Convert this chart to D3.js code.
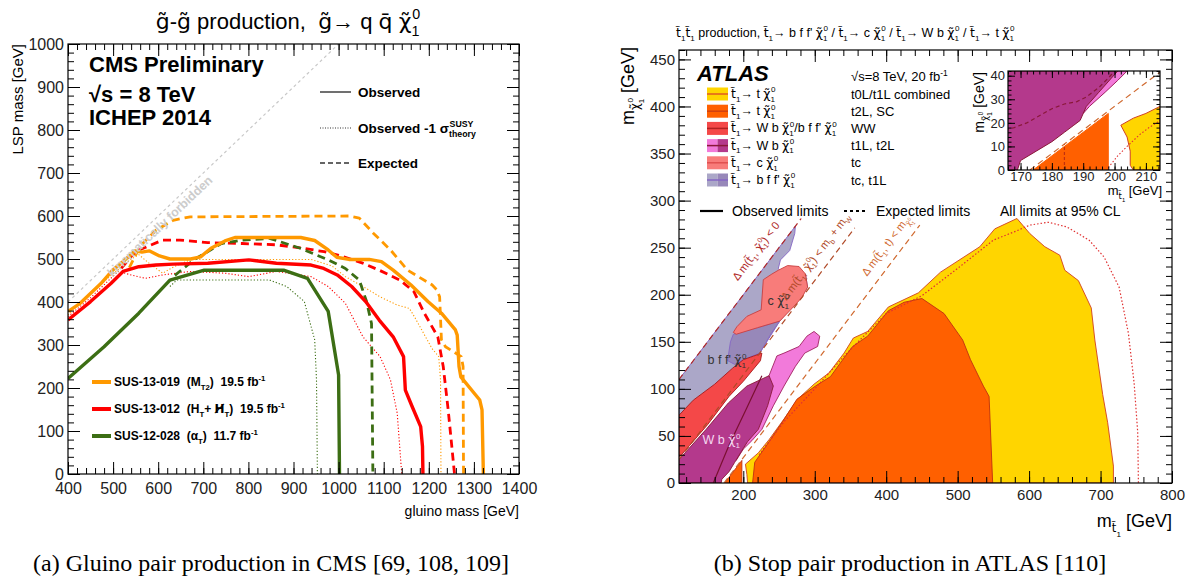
<!DOCTYPE html>
<html>
<head>
<meta charset="utf-8">
<script src="https://cdn.jsdelivr.net/npm/d3@7"></script>
<style>
  body { margin: 0; background: #fff; }
  svg text { font-family: "Liberation Sans", Arial, sans-serif; }
</style>
</head>
<body>
<svg id="fig" width="1202" height="583"></svg>
<script>
// ---------- left panel data (CMS, gluino mass vs LSP mass, GeV) ----------
const cmsXTicks = [400, 500, 600, 700, 800, 900, 1000, 1100, 1200, 1300, 1400];
const cmsYTicks = [0, 100, 200, 300, 400, 500, 600, 700, 800, 900, 1000];

const orangeObs = [[400,378],[427,397],[473,443],[499,474],[522,494],[549,519],[564,516],[580,519],[603,507],[626,500],[672,500],[694,505],[717,525],[748,542],[770,550],[855,550],[916,550],[947,543],[977,521],[996,504],[1023,499],[1068,499],[1095,494],[1121,474],[1160,440],[1198,401],[1228,374],[1259,335],[1263,323],[1267,250],[1271,226],[1313,172],[1318,149],[1321,0]];
const orangeExp = [[536,480],[560,530],[595,567],[633,590],[671,598],[1023,600],[1046,595],[1077,560],[1115,521],[1153,474],[1207,440],[1218,428],[1224,412],[1228,312],[1237,296],[1272,273],[1276,250],[1277,0]];
const orangeDot = [[400,370],[450,420],[500,466],[540,500],[557,510],[580,490],[610,467],[633,481],[672,499],[939,499],[985,484],[1015,459],[1054,436],[1092,412],[1130,393],[1157,385],[1168,366],[1207,292],[1222,273],[1226,219],[1227,0]];

const redObs = [[400,358],[450,401],[495,443],[522,471],[557,482],[595,486],[633,488],[710,490],[801,498],[862,490],[939,486],[967,478],[997,463],[1029,436],[1060,401],[1090,358],[1121,319],[1144,273],[1148,195],[1163,157],[1182,110],[1186,64],[1187,0]];
const redExp = [[518,478],[549,517],[610,544],[648,544],[710,538],[786,536],[862,533],[915,526],[968,517],[1006,507],[1052,491],[1090,474],[1136,451],[1167,424],[1190,374],[1220,319],[1232,250],[1243,149],[1251,64],[1257,0]];
const redDot = [[400,366],[450,410],[511,471],[540,463],[572,455],[610,463],[671,471],[748,467],[801,459],[862,471],[939,459],[977,436],[1015,397],[1054,319],[1092,273],[1115,219],[1130,141],[1140,0]];

const greenObs = [[400,222],[480,296],[557,374],[626,451],[702,474],[878,474],[931,455],[977,378],[1000,230],[1002,0]];
const greenExp = [[637,462],[679,498],[740,536],[786,544],[847,548],[915,525],[977,498],[1015,478],[1046,451],[1062,401],[1073,350],[1076,0]];
const greenDot = [[626,436],[641,451],[710,451],[847,451],[885,436],[924,401],[947,312],[951,219],[953,0]];

const S2 = "\u00a0\u00a0";
const cmsAnalyses = [`SUS-13-019${S2}(M_{T2})${S2}19.5 fb^{-1}`, `SUS-13-012${S2}(H_{T}+ H\u0338_{T})${S2}19.5 fb^{-1}`, `SUS-12-028${S2}(\u03b1_{T})${S2}11.7 fb^{-1}`];

// ---------- right panel data (ATLAS, stop mass vs neutralino mass, GeV) ----------
const atlasXTicks = [200, 300, 400, 500, 600, 700, 800];
const atlasYTicks = [0, 50, 100, 150, 200, 250, 300, 350, 400, 450];

const yellowObs = [[206,0],[205,9],[203,20],[221,32],[236,46],[257,68],[276,89],[299,105],[320,117],[341,138],[354,154],[374,161],[403,187],[445,202],[476,224],[531,251],[552,270],[583,281],[601,265],[622,251],[643,242],[650,226],[669,215],[687,186],[692,152],[703,94],[710,64],[718,18],[718,0]];
const yellowExp = [[222,30],[258,66],[300,100],[345,138],[400,180],[450,199],[500,228],[550,258],[583,268],[601,274],[627,277],[653,272],[684,258],[705,240],[726,208],[739,159],[747,106],[752,54],[753,0]];
const orangeRegion = [[213,0],[216,22],[238,46],[254,64],[275,89],[301,103],[322,113],[343,135],[353,145],[374,156],[403,183],[425,192],[450,196],[481,180],[507,152],[518,131],[536,103],[544,92],[549,0]];
const orangeSliver = [[174,0],[198,24],[198,0]];
const grayRegion = [[110,110],[273,273],[272,265],[265,247],[252,237],[249,228],[257,222],[287,222],[290,208],[251,172],[223,138],[200,131],[160,100],[110,60]];
const darkPurpleRegion = [[186,158],[220,165],[251,172],[240,160],[223,138],[200,131],[188,126],[178,130],[182,150]];
const salmonRegion = [[249,226],[262,231],[278,230],[287,222],[290,208],[282,197],[265,183],[251,172],[220,165],[190,158],[186,160],[191,166],[205,177],[225,184],[228,216],[240,222]];
const redRegion = [[200,131],[215,135],[226,138],[224,130],[200,108],[180,92],[150,62],[125,40],[110,27],[110,72],[130,88],[160,105],[185,122]];
const pinkRegion = [[299,161],[307,156],[304,145],[286,138],[273,124],[257,103],[242,82],[226,57],[212,45],[200,36],[190,24],[236,114],[247,135],[257,138],[278,145],[289,156]];
const magentaRegion = [[236,114],[242,103],[234,82],[221,57],[206,44],[196,32],[188,22],[180,12],[170,4],[169,0],[110,0],[110,25],[148,57],[179,85],[205,103]];
const magentaInner = [[158,0],[180,40],[205,80],[226,114]];
const kinOffsets = [0, 85, 173];       // m(chi) = m(stop) - offset
const kinEnds = [281, 356, 447];

// inset (zoom on the low-mass corner)
const insetXTicks = [170, 180, 190, 200, 210];
const insetYTicks = [0, 10, 20, 30, 40];
const insetMagenta = [[165,0],[169,0],[170,4],[175,8],[180,12],[184,16],[187,19],[189,21],[190,24],[191,27],[195,33],[199,39],[201,42],[165,42]];
const insetPink = [[190,24],[192,27],[197,33],[201,38],[204,42],[201,42],[197,37],[193,31],[190,27]];
const insetOrange = [[174,0],[198,24],[198,0]];
const insetYellow = [[202,19],[204,14],[205,8],[205,2],[206,0],[214.5,0],[214.5,27],[210,24],[206,22]];
const insetMagExp = [[165,17],[168,18],[172,20],[176,23],[180,26],[184,28],[188,29],[191,31],[195,35],[198,39],[200,42]];
const insetRedDot = [[198,1],[201,6],[204,10],[208,15],[211,18],[214.5,21]];

const T = "t\u0303", CHI = "\u03c7\u0303";
const atlasLegend = [
  `${T}_{1}\u2192 t ${CHI}_{1}^{0}`,
  `${T}_{1}\u2192 t ${CHI}_{1}^{0}`,
  `${T}_{1}\u2192 W b ${CHI}_{1}^{0}/b f f' ${CHI}_{1}^{0}`,
  `${T}_{1}\u2192 W b ${CHI}_{1}^{0}`,
  `${T}_{1}\u2192 c ${CHI}_{1}^{0}`,
  `${T}_{1}\u2192 b f f' ${CHI}_{1}^{0}`
];
const atlasAnalyses = ["t0L/t1L combined", "t2L, SC", "WW", "t1L, t2L", "tc", "tc, t1L"];

// ---------- helpers ----------
const svg = d3.select("#fig");

// very small TLatex-like markup: _{sub}, ^{sup}, _{sub}^{sup}
function parse(str) {
  const out = [];
  str.split(/(_\{[^}]*\}\^\{[^}]*\}|_\{[^}]*\}|\^\{[^}]*\})/).filter(s => s).forEach(p => {
    let m;
    if ((m = p.match(/^_\{([^}]*)\}\^\{([^}]*)\}$/))) {
      out.push([m[1], 0.3, 0.65]); out.push([m[2], -0.45, 0.65, true]);
    } else if ((m = p.match(/^_\{([^}]*)\}$/))) out.push([m[1], 0.3, 0.65]);
    else if ((m = p.match(/^\^\{([^}]*)\}$/))) out.push([m[1], -0.4, 0.65]);
    else {
      // keep letters carrying a combining accent in their own tspan (DejaVu places them well)
      p.split(/(.[\u0303\u0304\u0338])/).filter(s => s).forEach(q => out.push([q, 0, 1]));
    }
  });
  return out;
}
function rich(t, fs, src) {
  const segs = typeof src === "string" ? parse(src) : src;
  let cur = 0, last = null;
  segs.forEach(([txt, off, sz, stack]) => {
    const sp = t.append("tspan").attr("font-size", fs * sz).attr("dy", (off - cur) * fs).text(txt);
    if (/[\u0303\u0304\u0338]/.test(txt)) sp.style("font-family", "'DejaVu Sans', sans-serif");
    if (stack && last) sp.attr("dx", -last.getComputedTextLength() + 0.04 * fs);
    cur = off; last = sp.node();
  });
  return t;
}

function frame(g, x, y, o) {
  const [x0, x1] = x.range(), [y0, y1] = y.range();
  const add = (axis, tr) => g.append("g").attr("transform", tr).call(axis)
      .call(a => a.select(".domain").remove())
      .call(a => a.selectAll("text").attr("font-size", o.fs).attr("fill", "#222"))
      .call(a => a.selectAll("line").attr("stroke", "#000"));
  const f = d3.format("d");
  add(d3.axisBottom(x).tickValues(o.xMajor).tickSize(-o.maj).tickPadding(o.padX).tickFormat(f), `translate(0,${y0})`);
  add(d3.axisBottom(x).tickValues(o.xMinor).tickSize(-o.min).tickFormat(""), `translate(0,${y0})`);
  add(d3.axisLeft(y).tickValues(o.yMajor).tickSize(-o.maj).tickPadding(o.padY).tickFormat(f), `translate(${x0},0)`);
  add(d3.axisLeft(y).tickValues(o.yMinor).tickSize(-o.min).tickFormat(""), `translate(${x0},0)`);
  add(d3.axisTop(x).tickValues(o.xMajor).tickSize(-o.maj).tickFormat(""), `translate(0,${y1})`);
  add(d3.axisTop(x).tickValues(o.xMinor).tickSize(-o.min).tickFormat(""), `translate(0,${y1})`);
  add(d3.axisRight(y).tickValues(o.yMajor).tickSize(-o.maj).tickFormat(""), `translate(${x1},0)`);
  add(d3.axisRight(y).tickValues(o.yMinor).tickSize(-o.min).tickFormat(""), `translate(${x1},0)`);
  g.append("rect").attr("x", x0).attr("y", y1).attr("width", x1 - x0).attr("height", y0 - y1)
    .attr("fill", "none").attr("stroke", "#000").attr("stroke-width", 1.2);
}

// ================= LEFT PANEL =================
const xL = d3.scaleLinear().domain([400, 1400]).range([68, 519]);
const yL = d3.scaleLinear().domain([0, 1000]).range([474, 44]);
const left = svg.append("g");
left.append("clipPath").attr("id", "clipL").append("rect")
  .attr("x", 68).attr("y", 44).attr("width", 451).attr("height", 430);
const plotL = left.append("g").attr("clip-path", "url(#clipL)");
const lineL = d3.line().x(d => xL(d[0])).y(d => yL(d[1]));

// kinematic limit
plotL.append("line").attr("x1", xL(400)).attr("y1", yL(400)).attr("x2", xL(1000)).attr("y2", yL(1000))
  .attr("stroke", "#c8c8c8").attr("stroke-width", 1.2).attr("stroke-dasharray", "3,3");
{
  const ang = Math.atan2(yL(500) - yL(600), xL(600) - xL(500)) * 180 / Math.PI;
  const cx = xL(590) + 9, cy = yL(590) + 9;
  left.append("text").attr("transform", `translate(${cx},${cy}) rotate(${-ang})`)
    .attr("text-anchor", "middle").attr("font-size", 12.5).attr("font-weight", "bold").attr("fill", "#cccccc")
    .text("kinematically forbidden");
}

const curves = [
  [orangeDot, "#ff9900", 1.1, "1.2,2"], [redDot, "#ff0000", 1.1, "1.2,2"], [greenDot, "#3c6e14", 1.1, "1.2,2"],
  [orangeExp, "#ff9900", 2.8, "8,5"], [redExp, "#ff0000", 2.8, "8,5"], [greenExp, "#3c6e14", 2.8, "8,5"],
  [orangeObs, "#ff9900", 3.4, null], [redObs, "#ff0000", 3.4, null], [greenObs, "#3c6e14", 3.4, null]
];
curves.forEach(([d, c, w, dash]) => {
  const p = plotL.append("path").attr("d", lineL(d)).attr("fill", "none")
    .attr("stroke", c).attr("stroke-width", w).attr("stroke-linejoin", "round");
  if (dash) p.attr("stroke-dasharray", dash);
});

frame(left, xL, yL, {
  xMajor: cmsXTicks, xMinor: d3.range(400, 1401, 20), yMajor: cmsYTicks, yMinor: d3.range(0, 1001, 20),
  maj: 12, min: 6, fs: 16, padX: 9, padY: 4
});

rich(left.append("text").attr("x", 288).attr("y", 29).attr("text-anchor", "middle"), 22,
  `g\u0303-g\u0303 production,${S2}g\u0303\u2192 q q\u0304 ${CHI}_{1}^{0}`);
left.append("text").attr("transform", "translate(23,44) rotate(-90)").attr("text-anchor", "end")
  .attr("font-size", 15).text("LSP mass [GeV]");
left.append("text").attr("x", 519).attr("y", 516).attr("text-anchor", "end")
  .attr("font-size", 14).text("gluino mass [GeV]");

["CMS Preliminary", "\u221As = 8 TeV", "ICHEP 2014"].forEach((s, i) =>
  left.append("text").attr("x", 89).attr("y", [72, 102, 125][i]).attr("font-size", 22)
    .attr("font-weight", "bold").text(s));

// legend (line styles)
[["Observed", null, 1.4], [`Observed -1 \u03c3_{theory}^{SUSY}`, "1,1.5", 1], ["Expected", "5,3", 1.4]].forEach(([s, dash, w], i) => {
  const yy = [92, 128, 163][i];
  const ln = left.append("line").attr("x1", 320).attr("x2", 351).attr("y1", yy).attr("y2", yy)
    .attr("stroke", "#333").attr("stroke-width", w);
  if (dash) ln.attr("stroke-dasharray", dash);
  rich(left.append("text").attr("x", 358).attr("y", yy + 5).attr("font-size", 13.5).attr("font-weight", "bold"), 13.5, s);
});
// legend (analyses)
cmsAnalyses.forEach((s, i) => {
  const yy = [382, 409, 436][i];
  left.append("line").attr("x1", 92).attr("x2", 111).attr("y1", yy).attr("y2", yy)
    .attr("stroke", ["#ff9900", "#ff0000", "#3c6e14"][i]).attr("stroke-width", 4);
  rich(left.append("text").attr("x", 114).attr("y", yy + 4).attr("font-weight", "bold"), 12, s);
});

// ================= RIGHT PANEL =================
const xR = d3.scaleLinear().domain([110, 800]).range([679, 1172]);
const yR = d3.scaleLinear().domain([0, 460]).range([483, 50]);
const right = svg.append("g");
right.append("clipPath").attr("id", "clipR").append("rect")
  .attr("x", 679).attr("y", 50).attr("width", 493).attr("height", 433);
const plotR = right.append("g").attr("clip-path", "url(#clipR)");
const lineR = d3.line().x(d => xR(d[0])).y(d => yR(d[1]));
const polyR = d => lineR(d) + "Z";

const regions = [
  [grayRegion, "#aba7c8", "#8466c4"], [darkPurpleRegion, "#9788b9", "#8466c4"],
  [salmonRegion, "#f87c7a", "#c84040"], [redRegion, "#f44848", "#a81818"],
  [pinkRegion, "#f27ada", "#a02060"], [magentaRegion, "#b4398c", "#8a1838"],
  [yellowObs, "#ffd500", "#d04020"], [orangeRegion, "#ff6000", "#c03010"], [orangeSliver, "#ff6000", "#c03010"]
];
regions.forEach(([d, f, s]) => plotR.append("path").attr("d", polyR(d))
  .attr("fill", f).attr("stroke", s).attr("stroke-width", 0.9).attr("stroke-linejoin", "round"));
plotR.append("path").attr("d", lineR(magentaInner)).attr("fill", "none")
  .attr("stroke", "#7a1030").attr("stroke-width", 1.2);
plotR.append("path").attr("d", lineR(yellowExp)).attr("fill", "none")
  .attr("stroke", "#e03030").attr("stroke-width", 1.2).attr("stroke-dasharray", "1.5,2");

// kinematic boundaries
const kinColors = ["#b02828", "#b04a28", "#d06a30"];
kinOffsets.forEach((off, i) => {
  const a = Math.max(110, off);
  plotR.append("line").attr("x1", xR(a)).attr("y1", yR(a - off)).attr("x2", xR(kinEnds[i])).attr("y2", yR(kinEnds[i] - off))
    .attr("stroke", kinColors[i]).attr("stroke-width", 1.2).attr("stroke-dasharray", "6,4");
});
{
  const ang = Math.atan2(yR(0) - yR(100), xR(210) - xR(110)) * 180 / Math.PI;
  const labs = [
    [`\u0394 m(${T}_{1}, ${CHI}_{1}^{0}) < 0`, 222, 244],
    [`\u0394 m(${T}_{1}, ${CHI}_{1}^{0}) < m_{b} + m_{W}`, 305, 238],
    [[["\u0394 m(", 0, 1], [T, 0, 1], ["1", 0.3, 0.65], [", t) < m", 0, 1], [CHI, 0.3, 0.65], ["1", 0.55, 0.45], ["0", 0.05, 0.45, true]], 404, 250]
  ];
  labs.forEach(([s, vx, vy], i) => {
    const t = right.append("text").attr("transform", `translate(${xR(vx)},${yR(vy)}) rotate(${-ang})`)
      .attr("text-anchor", "middle").attr("fill", kinColors[i]);
    rich(t, 11, s);
  });
}

// labels inside regions
rich(right.append("text").attr("x", xR(234)).attr("y", yR(189)).attr("fill", "#333"), 12.5, `c ${CHI}_{1}^{0}`);
rich(right.append("text").attr("x", xR(150)).attr("y", yR(126)).attr("fill", "#333"), 12.5, `b f f' ${CHI}_{1}^{0}`);
rich(right.append("text").attr("x", xR(143)).attr("y", yR(41)).attr("fill", "#f4d8f0"), 12.5, `W b ${CHI}_{1}^{0}`);

frame(right, xR, yR, {
  xMajor: atlasXTicks, xMinor: d3.range(120, 801, 20), yMajor: atlasYTicks, yMinor: d3.range(0, 461, 10),
  maj: 12, min: 6, fs: 15, padX: 6, padY: 4
});

// title and axis titles
rich(right.append("text").attr("x", 676).attr("y", 37), 12.5,
  `${T}_{1}${T}_{1} production, ${T}_{1}\u2192 b f f' ${CHI}_{1}^{0} / ${T}_{1}\u2192 c ${CHI}_{1}^{0} / ${T}_{1}\u2192 W b ${CHI}_{1}^{0} / ${T}_{1}\u2192 t ${CHI}_{1}^{0}`);
rich(right.append("text").attr("transform", "translate(634,47) rotate(-90)").attr("text-anchor", "end"), 18,
  [["m", 0, 1], [CHI, 0.3, 0.65], ["1", 0.55, 0.45], ["0", -0.05, 0.45, true], [" [GeV]", 0, 1]]);
rich(right.append("text").attr("x", 1172).attr("y", 527).attr("text-anchor", "end"), 18,
  [["m", 0, 1], [T, 0.3, 0.65], ["1", 0.55, 0.45], [" [GeV]", 0, 1]]);

// ATLAS label and legend
right.append("text").attr("x", 697).attr("y", 81).attr("font-size", 22).attr("font-weight", "bold")
  .attr("font-style", "italic").text("ATLAS");
rich(right.append("text").attr("x", 851).attr("y", 81), 13, "\u221As=8 TeV, 20 fb^{-1}");
const swFill = [["#ffd500"], ["#ff6000"], ["#f44848"], ["#f27ada", "#b4398c"], ["#f87c7a"], ["#aba7c8", "#9788b9"]];
const swLine = ["#e05a20", "#d04010", "#b02020", "#8a1838", "#e05050", "#8466c4"];
atlasLegend.forEach((s, i) => {
  const yy = 94 + i * 17.2;
  swFill[i].forEach((f, k) => right.append("rect")
    .attr("x", 707 + k * 10.5).attr("y", yy - 6.5).attr("width", 21 / swFill[i].length).attr("height", 13).attr("fill", f));
  right.append("line").attr("x1", 707).attr("x2", 728).attr("y1", yy).attr("y2", yy)
    .attr("stroke", swLine[i]).attr("stroke-width", 1.5);
  rich(right.append("text").attr("x", 731).attr("y", yy + 4), 12.5, s);
  right.append("text").attr("x", 851).attr("y", yy + 4.5).attr("font-size", 13).text(atlasAnalyses[i]);
});
right.append("line").attr("x1", 700).attr("x2", 723).attr("y1", 211).attr("y2", 211).attr("stroke", "#000").attr("stroke-width", 2.2);
right.append("text").attr("x", 732).attr("y", 216).attr("font-size", 14).text("Observed limits");
right.append("line").attr("x1", 844).attr("x2", 865).attr("y1", 211).attr("y2", 211).attr("stroke", "#000")
  .attr("stroke-width", 2.2).attr("stroke-dasharray", "3,3");
right.append("text").attr("x", 876).attr("y", 216).attr("font-size", 14).text("Expected limits");
right.append("text").attr("x", 1000).attr("y", 216).attr("font-size", 14).text("All limits at 95% CL");

// ---------- inset ----------
const xI = d3.scaleLinear().domain([166, 214.5]).range([1008, 1160]);
const yI = d3.scaleLinear().domain([0, 42]).range([170, 71]);
const inset = svg.append("g");
inset.append("rect").attr("x", 1008).attr("y", 71).attr("width", 152).attr("height", 99).attr("fill", "#fff");
inset.append("clipPath").attr("id", "clipI").append("rect").attr("x", 1008).attr("y", 71).attr("width", 152).attr("height", 99);
const plotI = inset.append("g").attr("clip-path", "url(#clipI)");
const lineI = d3.line().x(d => xI(d[0])).y(d => yI(d[1]));
[[insetPink, "#f27ada", "#a02060"], [insetMagenta, "#b4398c", "#8a1838"], [insetOrange, "#ff6000", "#ff6000"], [insetYellow, "#ffd500", "#d04020"]]
  .forEach(([d, f, s]) => plotI.append("path").attr("d", lineI(d) + "Z").attr("fill", f).attr("stroke", s).attr("stroke-width", 1));
plotI.append("path").attr("d", lineI(insetMagExp)).attr("fill", "none").attr("stroke", "#8a1838")
  .attr("stroke-width", 1.2).attr("stroke-dasharray", "4,3");
plotI.append("path").attr("d", lineI(insetRedDot)).attr("fill", "none").attr("stroke", "#e03030")
  .attr("stroke-width", 1.1).attr("stroke-dasharray", "1.5,2");
plotI.append("line").attr("x1", xI(184)).attr("x2", xI(184)).attr("y1", yI(0)).attr("y2", yI(11))
  .attr("stroke", "#c03010").attr("stroke-width", 1.2).attr("stroke-dasharray", "3,2");
plotI.append("line").attr("x1", xI(173)).attr("y1", yI(0)).attr("x2", xI(214.5)).attr("y2", yI(41.5))
  .attr("stroke", "#d06a30").attr("stroke-width", 1.2).attr("stroke-dasharray", "6,4");
frame(inset, xI, yI, {
  xMajor: insetXTicks, xMinor: d3.range(166, 215, 2), yMajor: insetYTicks, yMinor: d3.range(0, 43, 2),
  maj: 7, min: 3.5, fs: 13, padX: 2, padY: 3
});
rich(inset.append("text").attr("transform", "translate(984,72) rotate(-90)").attr("text-anchor", "end"), 14,
  [["m", 0, 1], [CHI, 0.3, 0.65], ["1", 0.55, 0.45], ["0", -0.05, 0.45, true], [" [GeV]", 0, 1]]);
rich(inset.append("text").attr("x", 1162).attr("y", 195).attr("text-anchor", "end"), 13,
  [["m", 0, 1], [T, 0.3, 0.65], ["1", 0.5, 0.45], [" [GeV]", 0, 1]]);

// ---------- captions ----------
[["(a) Gluino pair production in CMS [69, 108, 109]", 271], ["(b) Stop pair production in ATLAS [110]", 910]].forEach(([s, cx]) =>
  svg.append("text").attr("x", cx).attr("y", 571).attr("text-anchor", "middle").attr("font-size", 24)
    .style("font-family", "'Liberation Serif', 'Times New Roman', serif").text(s));
</script>
</body>
</html>
